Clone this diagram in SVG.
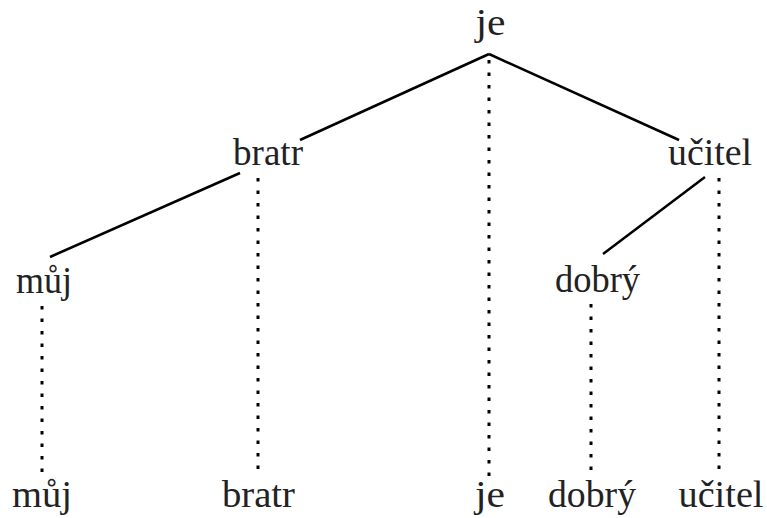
<svg xmlns="http://www.w3.org/2000/svg" width="767" height="518" viewBox="0 0 767 518">
<style>
text{font-family:"Liberation Serif","Times New Roman",serif;font-size:37px;fill:#222;text-anchor:middle}
.e{stroke:#000;stroke-width:2.5;fill:none}
.d{stroke:#000;stroke-width:3;stroke-dasharray:3.5 9;fill:none}
</style>
<rect width="767" height="518" fill="#fff"/>
<g id="connectors">
<line class="e" x1="489" y1="54" x2="300" y2="140"/>
<line class="e" x1="489" y1="54" x2="679" y2="140"/>
<line class="e" x1="240" y1="173" x2="50" y2="257"/>
<line class="e" x1="705" y1="177" x2="603" y2="254"/>
<line class="d" x1="489" y1="60" x2="489" y2="478"/>
<line class="d" x1="258" y1="178" x2="258" y2="472"/>
<line class="d" x1="42" y1="306" x2="42" y2="474"/>
<line class="d" x1="591" y1="304" x2="591" y2="472"/>
<line class="d" x1="719" y1="178" x2="719" y2="472"/>
</g>
<g id="n-je"><text x="490.5" y="35" textLength="30" lengthAdjust="spacingAndGlyphs">je</text></g>
<g id="n-bratr"><text x="268" y="165" textLength="70" lengthAdjust="spacingAndGlyphs">bratr</text></g>
<g id="n-ucitel"><text x="710" y="165" textLength="84" lengthAdjust="spacingAndGlyphs">učitel</text></g>
<g id="n-muj"><text x="44" y="293" textLength="56" lengthAdjust="spacingAndGlyphs">můj</text></g>
<g id="n-dobry"><text x="597.5" y="292" textLength="85" lengthAdjust="spacingAndGlyphs">dobrý</text></g>
<g id="w-muj"><text x="42" y="507" textLength="60" lengthAdjust="spacingAndGlyphs">můj</text></g>
<g id="w-bratr"><text x="258.5" y="507" textLength="73" lengthAdjust="spacingAndGlyphs">bratr</text></g>
<g id="w-je"><text x="490" y="507" textLength="30" lengthAdjust="spacingAndGlyphs">je</text></g>
<g id="w-dobry"><text x="592" y="507" textLength="88" lengthAdjust="spacingAndGlyphs">dobrý</text></g>
<g id="w-ucitel"><text x="721" y="507" textLength="85" lengthAdjust="spacingAndGlyphs">učitel</text></g>
</svg>
